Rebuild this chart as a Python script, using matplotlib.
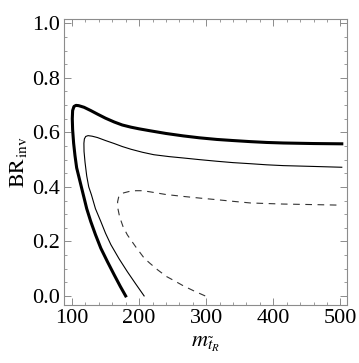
import numpy as np
import matplotlib.pyplot as plt

# curves: (m, BR_inv)
thick_m = [180, 172, 163, 153, 143, 135, 128, 122, 117, 112, 107, 104.5, 102.5, 101, 100.5,
           101, 103, 106, 110, 118, 128, 138, 150, 163, 175, 188, 200, 216, 240, 266, 290,
           316, 340, 366, 390, 415, 460, 502]
thick_br = [0.0, 0.035, 0.077, 0.125, 0.175, 0.225, 0.273, 0.32, 0.37, 0.42, 0.47, 0.515, 0.56, 0.61, 0.65,
            0.68, 0.695, 0.699, 0.698, 0.692, 0.68, 0.667, 0.652, 0.638, 0.627, 0.619, 0.613, 0.606, 0.596, 0.587, 0.58,
            0.574, 0.57, 0.566, 0.563, 0.561, 0.559, 0.558]

thin_m = [207.5, 195, 182.5, 170, 158, 150, 143, 135, 129, 125, 122, 119.5, 118, 117.8, 118.5,
          120.5, 124, 130, 138, 150, 163, 175, 188, 205, 222, 245, 266, 290, 316, 340, 366,
          390, 415, 460, 502]
thin_br = [0.0, 0.044, 0.089, 0.137, 0.188, 0.23, 0.273, 0.32, 0.371, 0.40, 0.44, 0.49, 0.53, 0.56, 0.576,
           0.585, 0.588, 0.586, 0.581, 0.57, 0.559, 0.548, 0.538, 0.527, 0.518, 0.511, 0.506, 0.5, 0.494, 0.489, 0.485,
           0.481, 0.478, 0.475, 0.472]

dash_m = [298.5, 282, 266, 253, 241, 228, 216, 207.5, 195, 182.5, 176, 171, 168.5, 168, 169.5,
          172.5, 177, 185, 195, 205, 216, 240, 266, 290, 316, 340, 366, 390, 415, 460, 500]
dash_br = [0.0, 0.018, 0.037, 0.055, 0.071, 0.095, 0.12, 0.139, 0.18, 0.224, 0.255, 0.29, 0.32, 0.345, 0.362,
           0.372, 0.378, 0.383, 0.386, 0.386, 0.382, 0.372, 0.365, 0.359, 0.353, 0.347, 0.341, 0.339, 0.337, 0.335, 0.333]

xticks = [100, 200, 300, 400, 500]
yticks = [0.0, 0.2, 0.4, 0.6, 0.8, 1.0]

plt.rcParams['font.family'] = 'serif'
plt.rcParams['font.serif'] = ['Liberation Serif', 'DejaVu Serif']
plt.rcParams['mathtext.fontset'] = 'stix'

fig = plt.figure(figsize=(3.59, 3.63), dpi=100)
ax = fig.add_axes([0.178, 0.160, 0.789, 0.787])

ax.plot(thick_m, thick_br, color='black', lw=2.2, solid_joinstyle='round')
ax.plot(thin_m, thin_br, color='black', lw=0.8)
ax.plot(dash_m, dash_br, color='#333333', lw=0.8, dashes=(6, 5))

ax.set_xlim(88, 510)
ax.set_ylim(-0.033, 1.015)
ax.set_xticks(xticks)
ax.set_yticks(yticks)
ax.set_yticklabels(['%.1f' % v for v in yticks])
ax.xaxis.set_minor_locator(plt.MultipleLocator(20))
ax.yaxis.set_minor_locator(plt.MultipleLocator(0.05))

for s in ax.spines.values():
    s.set_color('0.55')
    s.set_linewidth(0.8)
ax.tick_params(which='both', direction='in', top=True, right=True, color='0.55',
               labelsize=16, pad=3)
ax.tick_params(which='major', length=5, width=0.7)
ax.tick_params(which='minor', length=2.5, width=0.6)

ax.set_xlabel(r'$m_{\tilde{t}_R}$', fontsize=16, labelpad=5)
ax.set_ylabel(r'$\mathrm{BR}_{\mathrm{inv}}$', fontsize=16, labelpad=2)

fig.savefig('out.png', dpi=100)
